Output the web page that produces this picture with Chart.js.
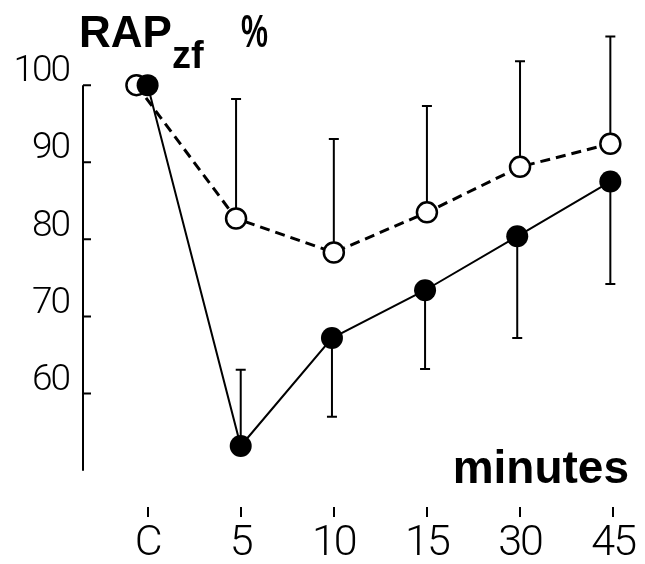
<!DOCTYPE html>
<html>
<head>
<meta charset="utf-8">
<script src="https://cdn.jsdelivr.net/npm/chart.js@4/dist/chart.umd.min.js"></script>
<style>
  html, body { margin: 0; padding: 0; background: #fff; }
  canvas { display: block; }
</style>
</head>
<body>
<canvas id="rapChart" width="645" height="564"></canvas>
<script>
// categories (x index 0..5)
const categories = ['C', '5', '10', '15', '30', '45'];
const yTicks = [60, 70, 80, 90, 100];

// open circles, dashed line (error bars upward)
const openX    = [-0.12, 0.95, 2, 3, 4, 4.97];
const openMean = [100, 82.7, 78.3, 83.5, 89.4, 92.4];
const openSD   = [null, 98.2, 93.0, 97.3, 103.1, 106.3];

// filled circles, solid line
const fillX    = [0, 1, 1.98, 2.98, 3.97, 4.97];
const fillMean = [100, 53.2, 67.2, 73.4, 80.4, 87.5];
const fillSD   = [null, 63.1, 57.0, 63.2, 67.2, 74.2];

const INK = '#000';
const THIN = "Roboto, 'DejaVu Sans', sans-serif";
const BOLD = "'Liberation Sans', Arial, sans-serif";

const toPoints = (xs, ys) => xs.map((x, i) => ({ x: x, y: ys[i] }));

// error bars, axis line and texts
const extras = {
    id: 'extras',
    beforeDraw(chart) {
        chart.ctx.letterSpacing = '-2px';
    },
    beforeDatasetsDraw(chart) {
        const { ctx, scales: { x, y } } = chart;
        ctx.save();
        ctx.strokeStyle = INK;
        ctx.lineWidth = 2;
        const bars = [[openX, openMean, openSD], [fillX, fillMean, fillSD]];
        bars.forEach(([xs, ms, ends]) => {
            ends.forEach((e, i) => {
                if (e === null) return;
                const px = x.getPixelForValue(xs[i]);
                const p0 = y.getPixelForValue(ms[i]);
                const p1 = y.getPixelForValue(e);
                ctx.beginPath();
                ctx.moveTo(px, p0);
                ctx.lineTo(px, p1);
                ctx.moveTo(px - 5, p1);
                ctx.lineTo(px + 5, p1);
                ctx.stroke();
            });
        });
        ctx.restore();
    },
    afterDraw(chart) {
        const { ctx, chartArea, scales: { y } } = chart;
        const left = chartArea.left;
        ctx.save();
        ctx.letterSpacing = '0px';
        ctx.strokeStyle = INK;
        ctx.lineWidth = 2;
        ctx.beginPath();
        ctx.moveTo(left, y.getPixelForValue(100));
        ctx.lineTo(left, y.getPixelForValue(50));
        yTicks.forEach(v => {
            const py = y.getPixelForValue(v);
            ctx.moveTo(left, py);
            ctx.lineTo(left + 8, py);
        });
        ctx.stroke();

        ctx.fillStyle = INK;
        ctx.textBaseline = 'alphabetic';
        ctx.textAlign = 'left';
        ctx.font = 'bold 44px ' + BOLD;
        ctx.fillText('RAP', 79, 47);
        ctx.font = 'bold 38px ' + BOLD;
        ctx.fillText('zf', 172, 68);
        ctx.save();
        ctx.translate(241, 47);
        ctx.scale(0.66, 1);
        ctx.font = 'bold 46px ' + BOLD;
        ctx.fillText('%', 0, 0);
        ctx.restore();

        ctx.textAlign = 'right';
        ctx.font = 'bold 46px ' + BOLD;
        ctx.fillText('minutes', 629, 483);
        ctx.restore();
    }
};

new Chart(document.getElementById('rapChart'), {
    type: 'line',
    data: {
        datasets: [
            {
                label: 'filled',
                data: toPoints(fillX, fillMean),
                borderColor: INK,
                borderWidth: 2,
                pointRadius: 11,
                pointBackgroundColor: INK,
                pointBorderColor: INK,
                pointBorderWidth: 0
            },
            {
                label: 'open',
                data: toPoints(openX, openMean),
                borderColor: INK,
                borderWidth: 3,
                borderDash: [10, 6],
                pointRadius: 10,
                pointBackgroundColor: '#fff',
                pointBorderColor: INK,
                pointBorderWidth: 2.5
            }
        ]
    },
    options: {
        responsive: false,
        animation: false,
        clip: false,
        layout: { padding: { top: 10, left: 0, right: 0, bottom: 0 } },
        plugins: { legend: { display: false }, tooltip: { enabled: false } },
        scales: {
            x: {
                type: 'linear',
                min: -0.694,
                max: 5.208,
                afterBuildTicks: s => { s.ticks = categories.map((c, i) => ({ value: i })); },
                afterFit: s => { s.height = 57; s.paddingLeft = 0; s.paddingRight = 0; },
                border: { display: false },
                grid: { drawOnChartArea: false, drawTicks: true, tickLength: 10, color: INK, lineWidth: 2 },
                ticks: {
                    color: INK,
                    padding: 6,
                    maxRotation: 0,
                    autoSkip: false,
                    font: { family: THIN, weight: '300', size: 43, lineHeight: 1 },
                    callback: v => categories[v]
                }
            },
            y: {
                min: 45.29,
                max: 109.42,
                afterBuildTicks: s => { s.ticks = yTicks.map(v => ({ value: v })); },
                afterFit: s => { s.width = 83; s.paddingTop = 0; s.paddingBottom = 0; },
                border: { display: false },
                grid: { display: false },
                ticks: {
                    color: INK,
                    padding: 6,
                    labelOffset: -13,
                    font: { family: THIN, weight: '300', size: 37 }
                }
            }
        }
    },
    plugins: [extras]
});
</script>
</body>
</html>
